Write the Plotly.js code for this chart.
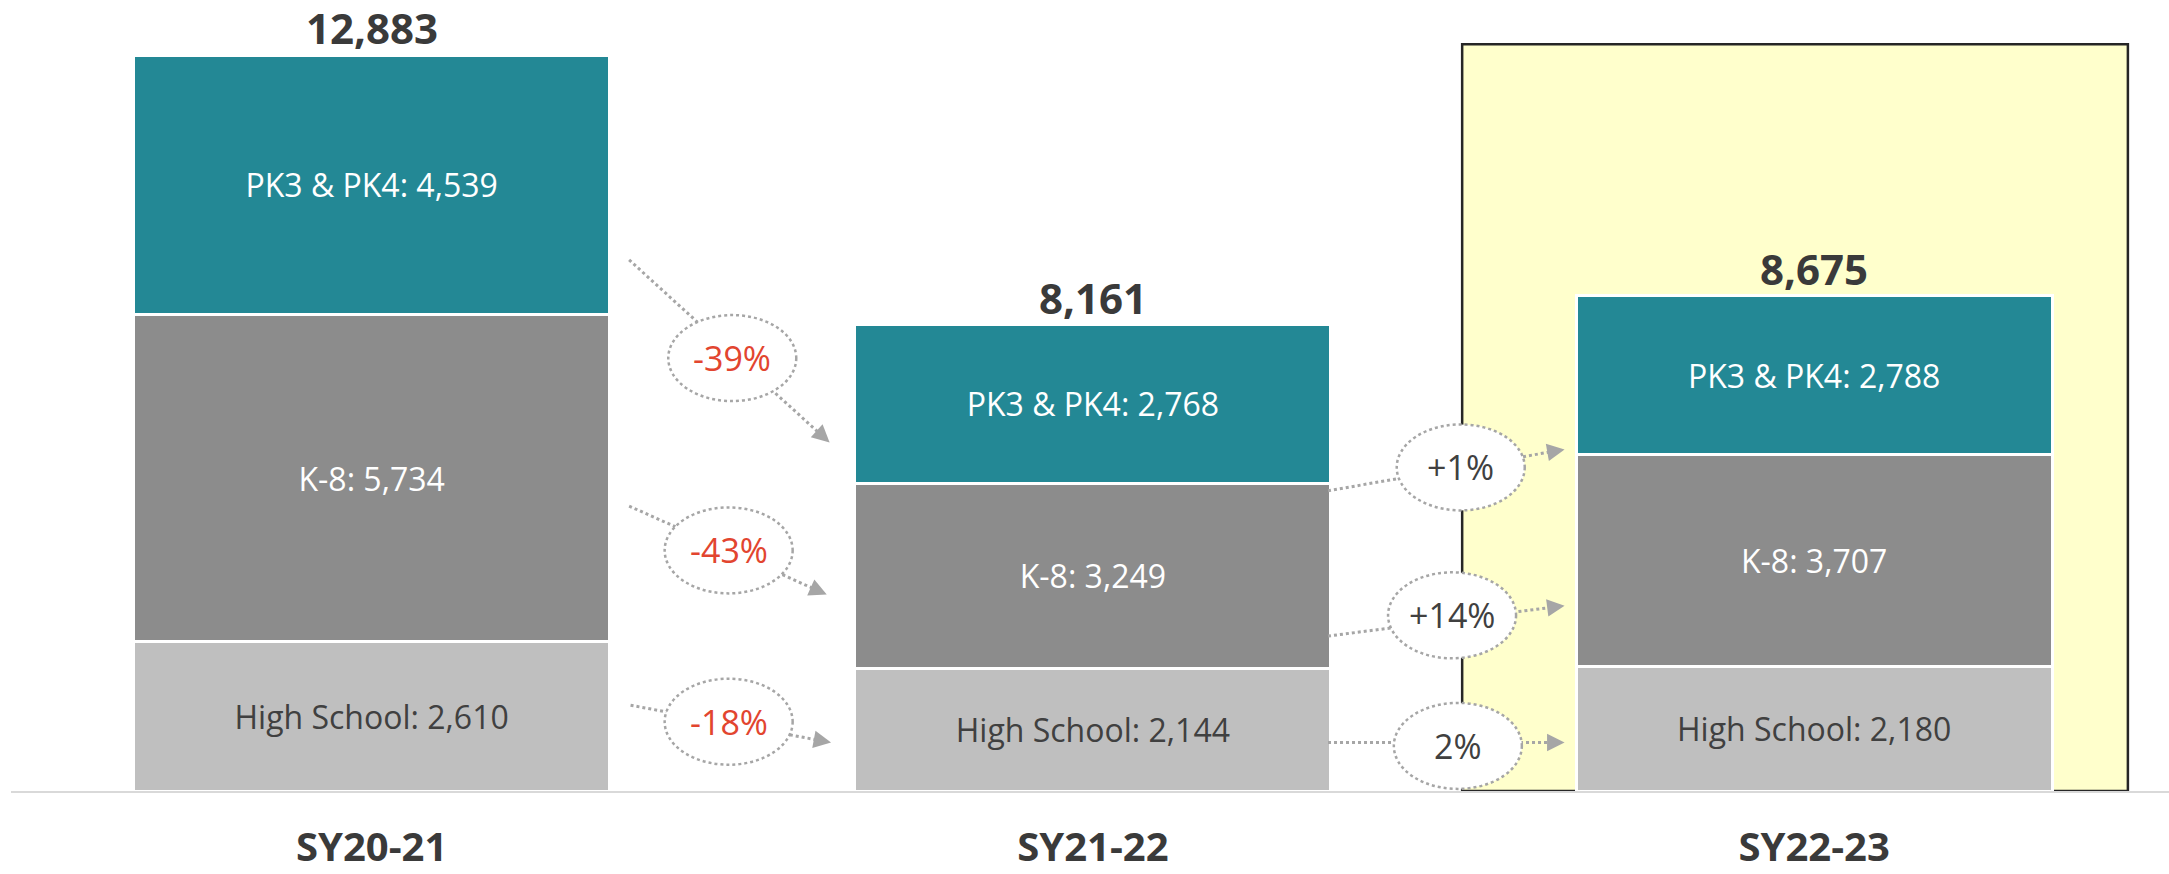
<!DOCTYPE html>
<html>
<head>
<meta charset="utf-8">
<script src="https://cdn.plot.ly/plotly-3.0.1.min.js"></script>
<style>html,body{margin:0;padding:0;background:#fff}#chart{width:2169px;height:874px}</style>
</head>
<body>
<div id="chart"></div>
<script>
// ---- data ----
const years = ['SY20-21', 'SY21-22', 'SY22-23'];
const pk = [4539, 2768, 2788];
const k8 = [5734, 3249, 3707];
const hs = [2610, 2144, 2180];
const segNames = ['PK3 & PK4', 'K-8', 'High School'];
const changeFirst = ['-39%', '-43%', '-18%'];   // SY20-21 -> SY21-22 (PK, K-8, HS)
const changeSecond = ['+1%', '+14%', '2%'];     // SY21-22 -> SY22-23 (PK, K-8, HS)

// ---- styling / geometry ----
const FONT = 'Open Sans, Noto Sans, sans-serif';
const W = 2169, H = 874;
const M = {l: 11, r: 0, t: 20, b: 83};
const XR = [-0.5, 2.492], YR = [0, 13500];
const xs = (W - M.l - M.r) / (XR[1] - XR[0]);   // px per x unit
const ys = (H - M.t - M.b) / (YR[1] - YR[0]);   // px per y unit
const fmt = v => v.toLocaleString('en-US');
const totals = years.map((_, i) => pk[i] + k8[i] + hs[i]);

function barTrace(vals, name, color, txtColor) {
  return {
    type: 'bar', x: years, y: vals, name: name,
    width: 0.66,
    marker: {color: color, line: {color: '#ffffff', width: 3}},
    text: vals.map(v => name + ': ' + fmt(v)),
    textposition: 'inside', insidetextanchor: 'middle', textangle: 0,
    constraintext: 'none',
    textfont: {family: FONT, size: 32, color: txtColor},
    hoverinfo: 'skip'
  };
}
const data = [
  barTrace(hs, segNames[2], '#bfbfbf', '#404040'),
  barTrace(k8, segNames[1], '#8c8c8c', '#ffffff'),
  barTrace(pk, segNames[0], '#238895', '#ffffff')
];

// arrow geometry (data units) for the change bubbles: [startX,startY,tipX,tipY,centerX,centerY]
const arrowsFirst = [
  [0.357, 9300, 0.635, 6100, 0.500, 7580],
  [0.357, 4989, 0.631, 3440, 0.495, 4213],
  [0.359, 1502, 0.637, 849, 0.495, 1213]
];
const arrowsSecond = [
  [1.326, 5256, 1.654, 5981, 1.510, 5666],
  [1.326, 2713, 1.654, 3245, 1.498, 3076],
  [1.326, 849, 1.654, 849, 1.506, 790]
];

const shapes = [];
const annotations = [];
// highlight box behind SY22-23
shapes.push({type: 'rect', layer: 'below', xref: 'x', yref: 'y',
  x0: 1.512, x1: 2.435, y0: 0, y1: 13076,
  fillcolor: '#ffffcc', line: {color: '#262626', width: 2.5}});

function addBubbles(arrows, labels, rxPx, ryPx, color) {
  arrows.forEach((a) => {
    const [sx, sy, tx, ty] = a;
    const dxp = (tx - sx) * xs, dyp = -(ty - sy) * ys;
    const len = Math.hypot(dxp, dyp);
    const ux = dxp / len, uy = dyp / len;
    shapes.push({type: 'line', xref: 'x', yref: 'y', x0: sx, y0: sy,
      x1: tx - ux * 8 / xs, y1: ty + uy * 8 / ys,
      line: {color: '#a6a6a6', width: 3, dash: 'dot'}});
    annotations.push({xref: 'x', yref: 'y', x: tx, y: ty, text: '',
      showarrow: true, arrowhead: 2, arrowsize: 1.4, arrowwidth: 2.5,
      arrowcolor: '#a6a6a6', ax: -ux * 12, ay: -uy * 12});
  });
  arrows.forEach((a, i) => {
    const cx = a[4], cy = a[5];
    shapes.push({type: 'circle', xref: 'x', yref: 'y',
      x0: cx - rxPx / xs, x1: cx + rxPx / xs, y0: cy - ryPx / ys, y1: cy + ryPx / ys,
      fillcolor: '#ffffff', line: {color: '#a6a6a6', width: 2.5, dash: 'dot'}});
    annotations.push({xref: 'x', yref: 'y', x: cx, y: cy, text: labels[i],
      showarrow: false, font: {family: FONT, size: 34, color: color}});
  });
}
addBubbles(arrowsFirst, changeFirst, 64, 43, '#e2452f');
addBubbles(arrowsSecond, changeSecond, 64, 43, '#404040');

// totals
totals.forEach((t, i) => {
  annotations.push({xref: 'x', yref: 'y', x: years[i], y: t, yanchor: 'bottom', yshift: -3,
    text: '<b>' + fmt(t) + '</b>', showarrow: false,
    font: {family: FONT, size: 42, color: '#3a3a3a'}});
});

const layout = {
  width: W, height: H, margin: M,
  paper_bgcolor: '#ffffff', plot_bgcolor: '#ffffff',
  barmode: 'stack', showlegend: false,
  xaxis: {type: 'category', range: XR, showgrid: false, zeroline: false,
    showline: true, linecolor: '#d9d9d9', linewidth: 2,
    ticks: 'outside', ticklen: 20, tickcolor: 'rgba(0,0,0,0)',
    tickvals: years, ticktext: years.map(y => '<b>' + y + '</b>'),
    tickfont: {family: FONT, size: 40, color: '#3a3a3a'}},
  yaxis: {range: YR, visible: false, showgrid: false, zeroline: false},
  shapes: shapes, annotations: annotations
};
Plotly.newPlot('chart', data, layout, {displayModeBar: false, staticPlot: true});
</script>
</body>
</html>
